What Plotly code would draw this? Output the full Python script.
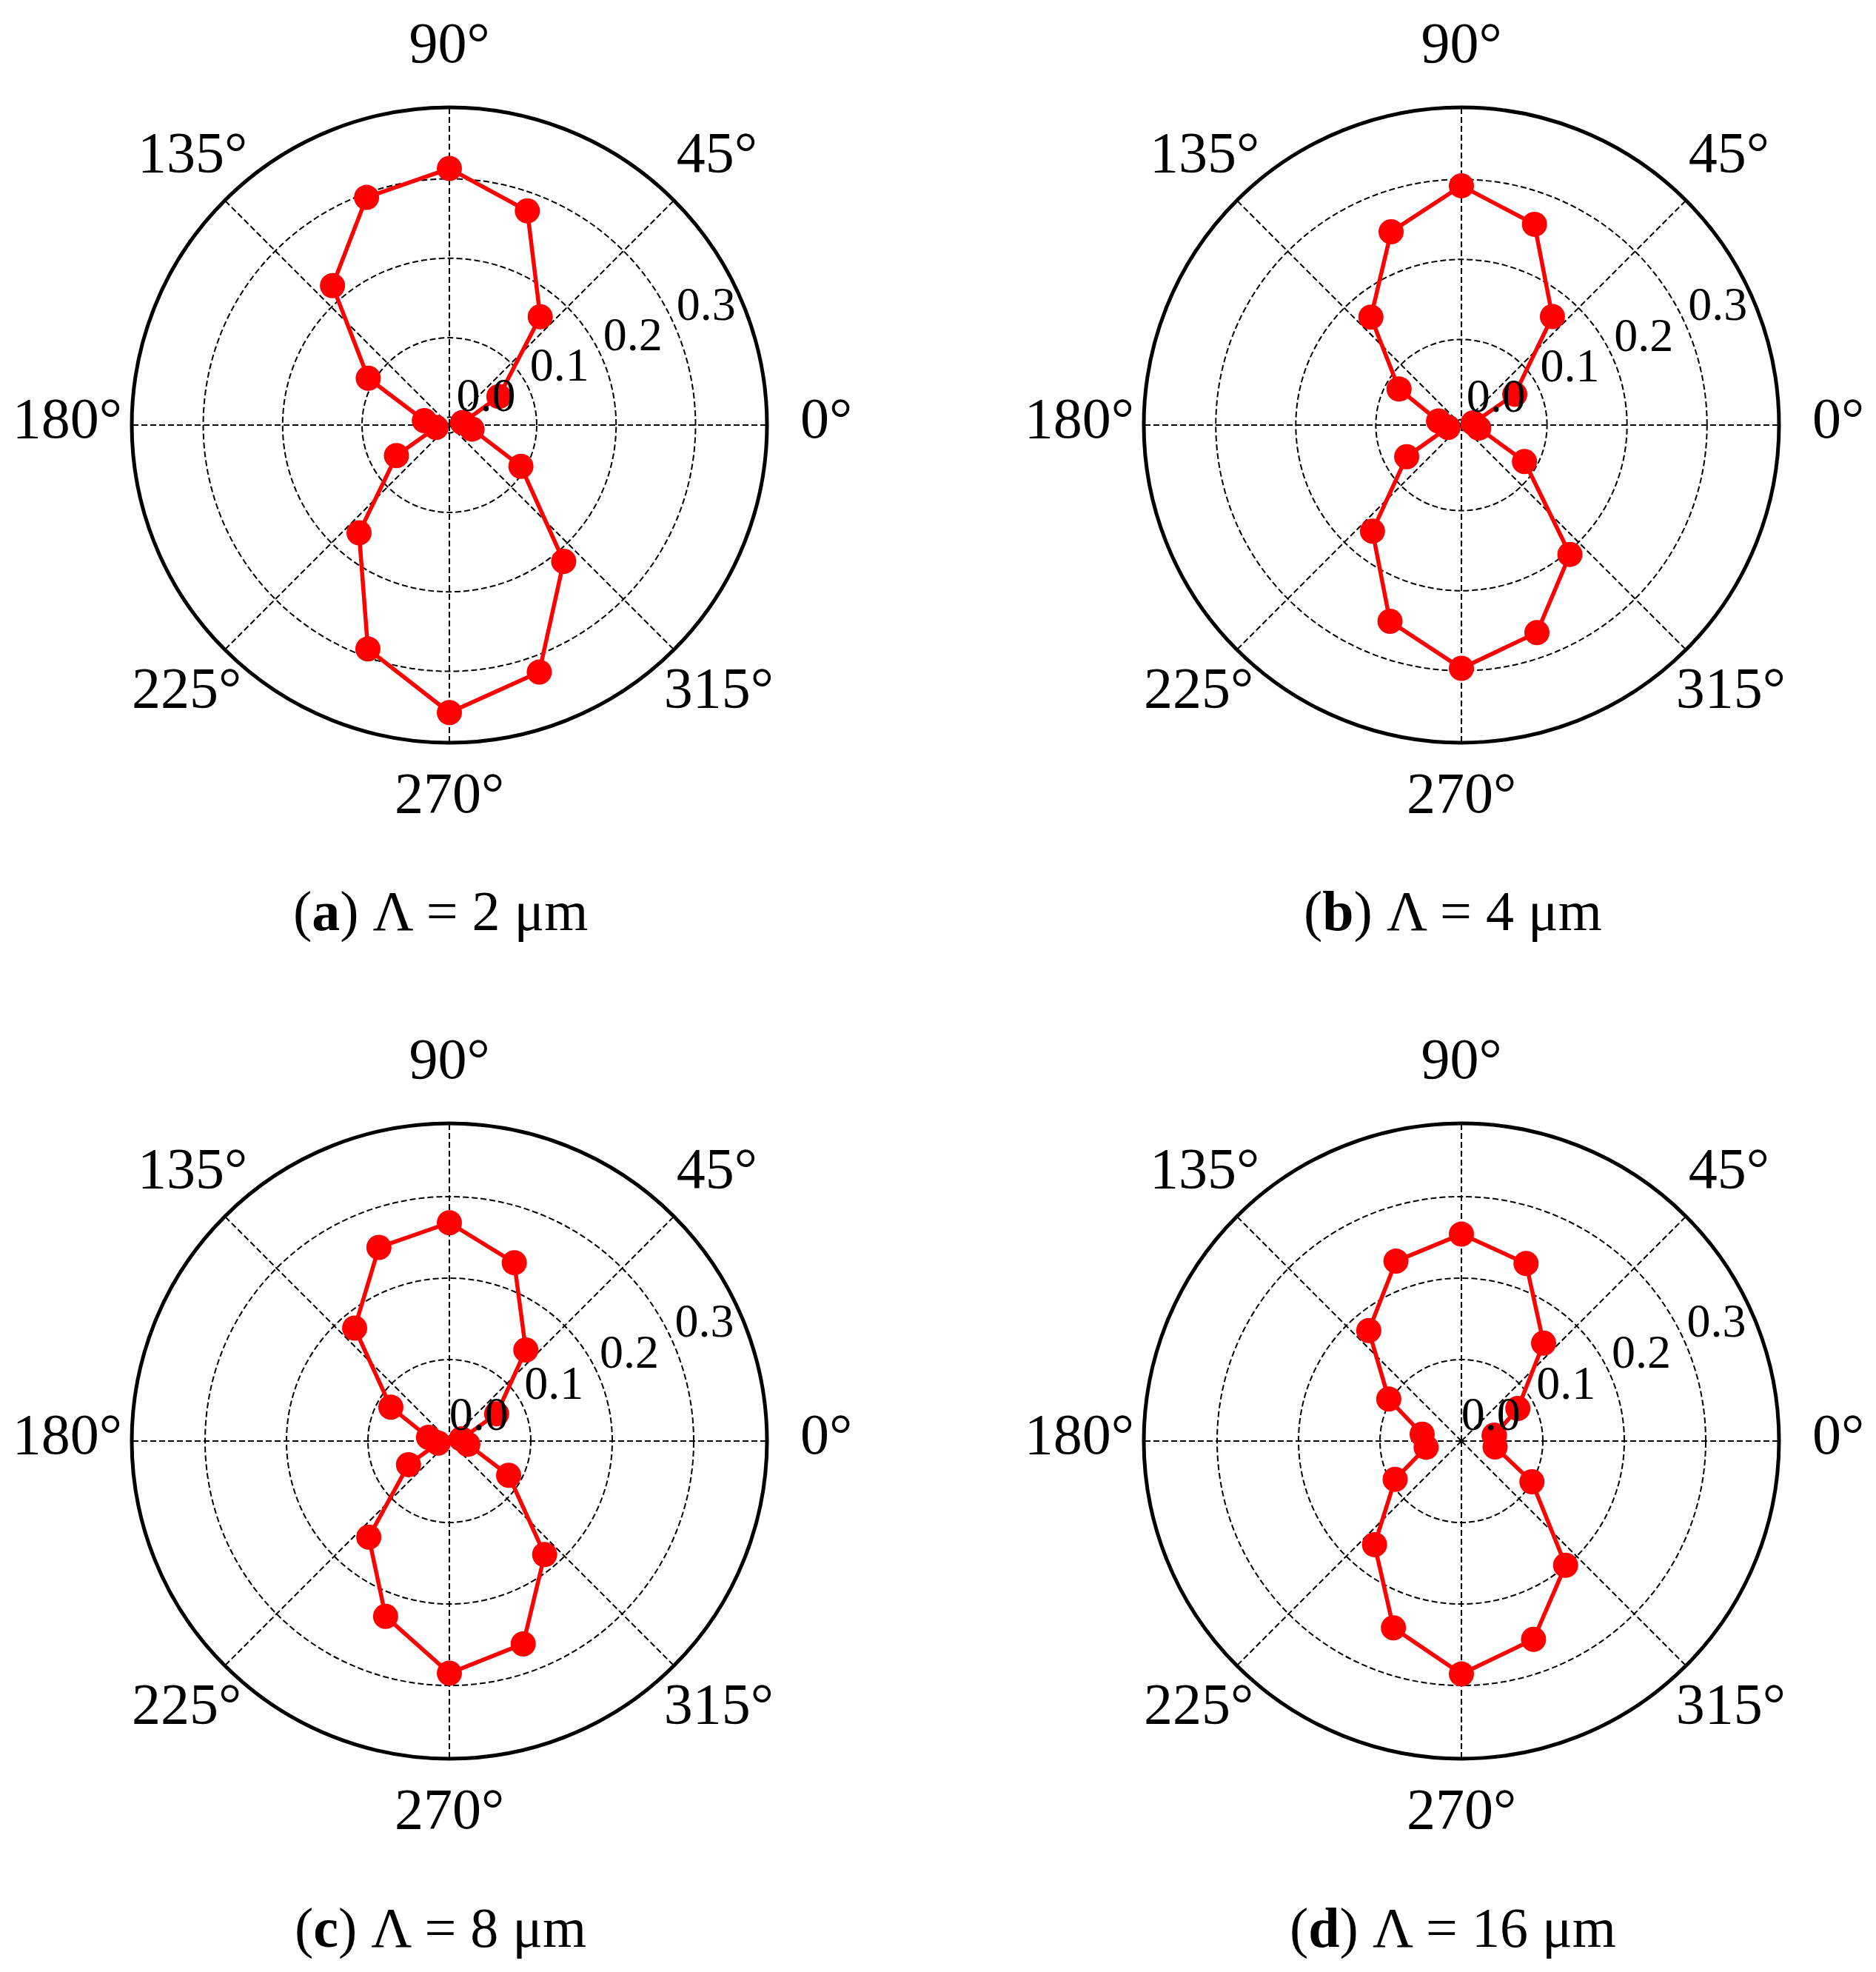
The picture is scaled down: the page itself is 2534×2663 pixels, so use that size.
import plotly.graph_objects as go

# polarization angle (deg) and normalized intensity for each grating period
angles = [10, 30, 50, 70, 90, 110, 130, 150, 170, 190, 210, 230, 250, 270, 290, 310, 330, 350]
r_2um = [0.007, 0.062, 0.168, 0.277, 0.313, 0.295, 0.219, 0.108, 0.022,
         0.007, 0.067, 0.167, 0.290, 0.352, 0.321, 0.214, 0.094, 0.019]
r_4um = [0.008, 0.070, 0.170, 0.260, 0.292, 0.250, 0.169, 0.083, 0.022,
         0.010, 0.072, 0.166, 0.254, 0.297, 0.269, 0.204, 0.084, 0.015]
r_8um = [0.015, 0.067, 0.146, 0.233, 0.268, 0.253, 0.181, 0.083, 0.026,
         0.014, 0.058, 0.154, 0.229, 0.285, 0.265, 0.182, 0.084, 0.023]
r_16um = [0.041, 0.080, 0.157, 0.232, 0.254, 0.235, 0.177, 0.103, 0.049,
          0.044, 0.094, 0.166, 0.244, 0.286, 0.259, 0.199, 0.100, 0.042]

captions = ["(<b>a</b>) Λ = 2 μm", "(<b>b</b>) Λ = 4 μm",
            "(<b>c</b>) Λ = 8 μm", "(<b>d</b>) Λ = 16 μm"]
radial_ranges = [[-0.01, 0.39], [-0.007, 0.39], [0, 0.39], [0, 0.39]]

angle_ticks = [0, 45, 90, 135, 180, 225, 270, 315]
r_ticks = [0, 0.1, 0.2, 0.3]
r_labels = ["0.0", "0.1", "0.2", "0.3"]

W, H = 2534, 2663
OFF = 8  # browser body margin
R = 429
centers = [(607, 574), (1974, 574), (607, 1946), (1974, 1946)]
FONT = "Liberation Serif"

# each angle label gets its own overlay so it can be nudged to sit the way
# the original places them (centred on a ring around the plot)
# angle: (tick length, shift right px, shift up px)
angle_label_pos = {
    0: (29, 0, 10), 45: (0, -8, 36), 90: (29, 0, 0), 135: (0, 42, 36),
    180: (0, 3, 10), 225: (0, 34, 8), 270: (0, 0, 0), 315: (0, -25, 8),
}
# radial tick labels sit to the right of their ticks in the original
LBL_DX, LBL_DY = 97, 5

fig = go.Figure()
series = [r_2um, r_4um, r_8um, r_16um]


def domain(cx, cy, dx=0, dy=0):
    cx, cy = cx - OFF + dx, cy - OFF - dy
    return dict(x=[(cx - R) / W, (cx + R) / W], y=[1 - (cy + R) / H, 1 - (cy - R) / H])


def ghost(r, subplot):
    # invisible copy of the data so an overlay subplot gets drawn
    return go.Scatterpolar(r=r, theta=angles, mode="markers",
                           marker=dict(color="rgba(0,0,0,0)", size=1),
                           subplot=subplot, showlegend=False, hoverinfo="skip")


n_panels = len(series)
next_id = n_panels + 1
for i, r in enumerate(series):
    base = "polar" if i == 0 else f"polar{i + 1}"
    cx, cy = centers[i]

    fig.add_trace(go.Scatterpolar(
        r=r + r[:1], theta=angles + angles[:1],
        mode="lines+markers",
        line=dict(color="#ff0000", width=5.5),
        marker=dict(color="#ff0000", size=34),
        subplot=base, showlegend=False,
    ))
    fig.update_layout(**{base: dict(
        domain=domain(cx, cy),
        bgcolor="white",
        angularaxis=dict(
            rotation=0, direction="counterclockwise",
            tickvals=angle_ticks, showticklabels=False, ticks="",
            showline=True, linecolor="black", linewidth=5,
            showgrid=True, gridcolor="black", gridwidth=2, griddash="8px,4px",
            layer="below traces",
        ),
        radialaxis=dict(
            range=radial_ranges[i], angle=22.5,
            tickvals=r_ticks, showticklabels=False,
            showline=False, ticks="",
            showgrid=True, gridcolor="black", gridwidth=2, griddash="8px,4px",
            layer="below traces",
        ),
    )})

    # radial tick labels
    rlab = f"polar{next_id}"
    next_id += 1
    fig.add_trace(ghost(r, rlab))
    fig.update_layout(**{rlab: dict(
        domain=domain(cx, cy, LBL_DX, LBL_DY),
        bgcolor="rgba(0,0,0,0)",
        angularaxis=dict(visible=False),
        radialaxis=dict(
            range=radial_ranges[i], angle=22.5, tickangle=22.5,
            side="counterclockwise",
            tickvals=r_ticks, ticktext=r_labels,
            tickfont=dict(family=FONT, size=64, color="black"),
            showline=False, ticks="", showgrid=False,
        ),
    )})

    # angle labels
    for a in angle_ticks:
        tl, dx, dy = angle_label_pos[a]
        alab = f"polar{next_id}"
        next_id += 1
        fig.add_trace(ghost(r, alab))
        fig.update_layout(**{alab: dict(
            domain=domain(cx, cy, dx, dy),
            bgcolor="rgba(0,0,0,0)",
            angularaxis=dict(
                rotation=0, direction="counterclockwise",
                tickvals=[a], ticktext=[f"{a}°"],
                tickfont=dict(family=FONT, size=78, color="black"),
                ticks="outside", ticklen=tl, tickcolor="rgba(0,0,0,0)",
                showline=False, showgrid=False,
            ),
            radialaxis=dict(range=radial_ranges[i], visible=False),
        )})

    fig.add_annotation(
        x=(cx - 12 - OFF) / W, y=1 - (cy + 657 - OFF) / H,
        xref="paper", yref="paper", xanchor="center", yanchor="middle",
        text=captions[i], showarrow=False,
        font=dict(family=FONT, size=76, color="black"),
    )

fig.update_layout(
    width=W, height=H,
    margin=dict(l=0, r=0, t=0, b=0),
    paper_bgcolor="white",
    plot_bgcolor="white",
)

fig.write_html("out.html")
